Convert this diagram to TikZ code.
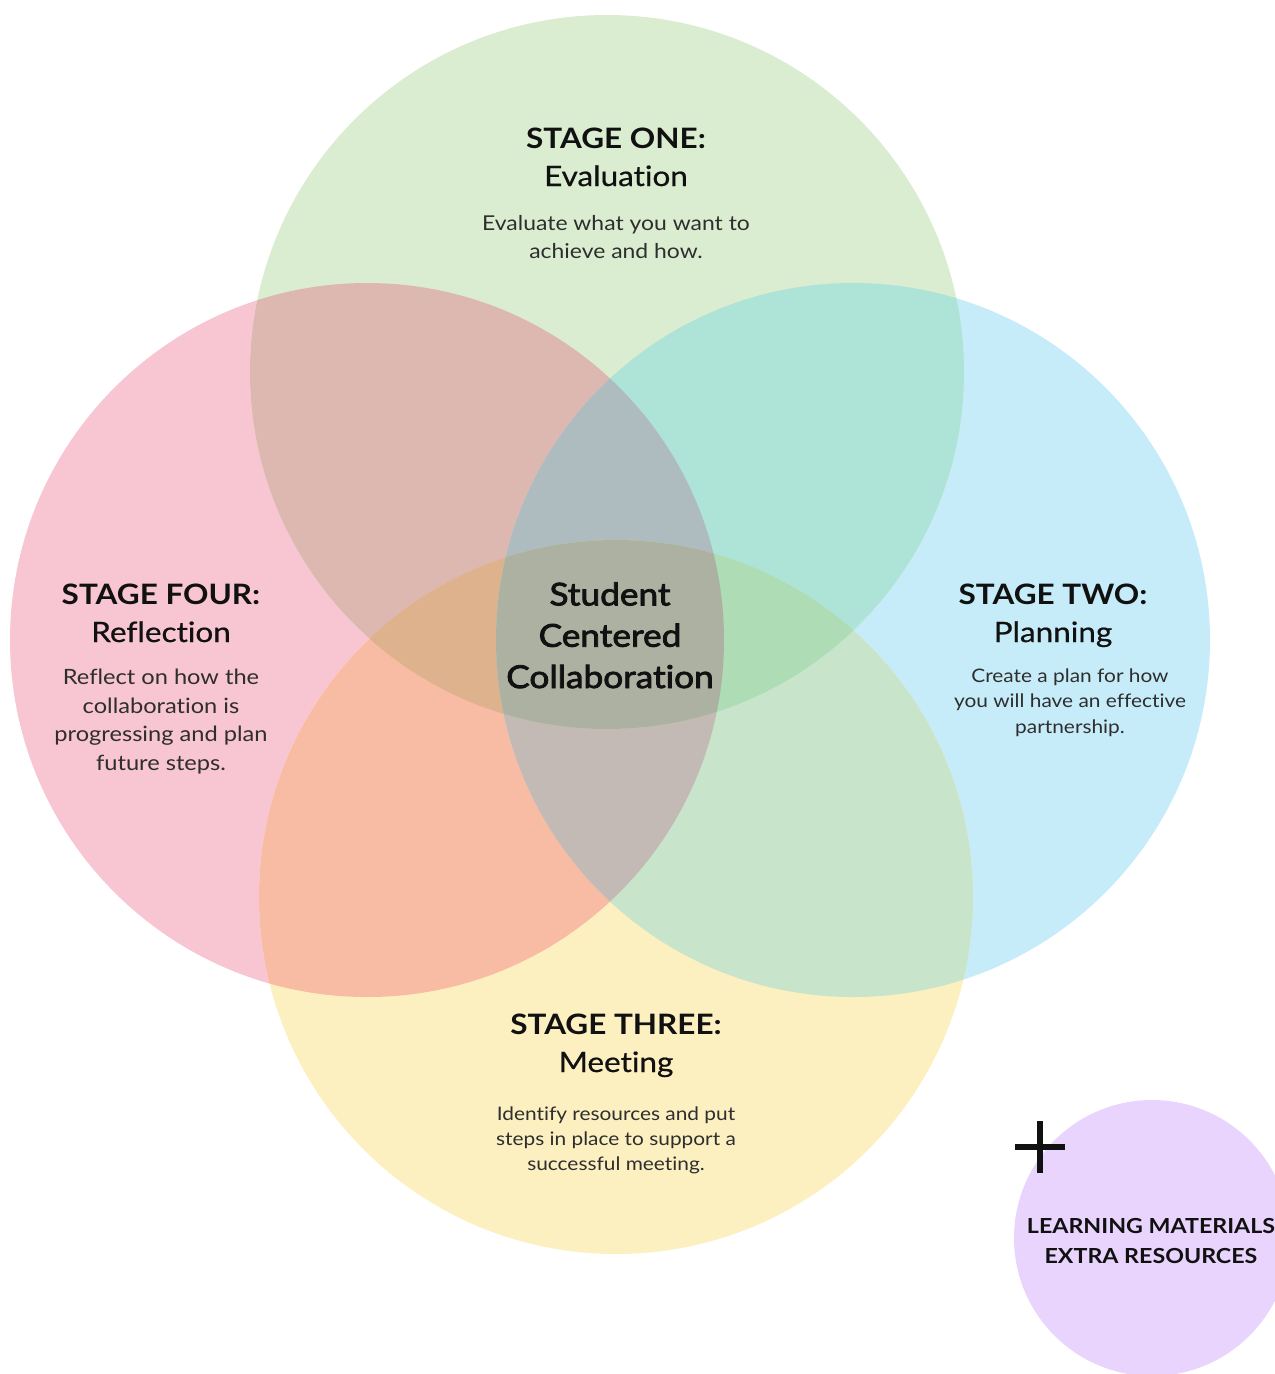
\documentclass[tikz,border=0pt]{standalone}
\usepackage{fontspec}
\setmainfont{Lato}[FakeStretch=1.12,Ligatures=NoCommon]
\newfontfamily\latomed{Lato}[FakeStretch=1.12,FakeBold=2.6,Ligatures=NoCommon]
\newfontfamily\latosemi{Lato}[FakeStretch=1.12,FakeBold=0.6,Ligatures=NoCommon]

% circle fills and their overlaps
\definecolor{cG}{HTML}{DBEDD0}
\definecolor{cP}{HTML}{F8C5D3}
\definecolor{cB}{HTML}{C6ECF9}
\definecolor{cY}{HTML}{FCF0C1}
\definecolor{cGP}{HTML}{DDB8B0}
\definecolor{cGB}{HTML}{AEE3D7}
\definecolor{cPY}{HTML}{F8BBA3}
\definecolor{cBY}{HTML}{C8E4CB}
\definecolor{cGPB}{HTML}{AEBBBF}
\definecolor{cGPY}{HTML}{DDB28D}
\definecolor{cGBY}{HTML}{AEDCB4}
\definecolor{cPBY}{HTML}{C4BAB5}
\definecolor{cAll}{HTML}{ACB1A1}
\definecolor{cPurple}{HTML}{E9D4FD}
\definecolor{ink}{HTML}{111111}
\definecolor{bodyink}{HTML}{2E2E2E}

\begin{document}
\begin{tikzpicture}[x=0.02cm,y=-0.02cm,
  % multi-line nodes: the base anchor sits on the last line's baseline
  head/.style={anchor=base,align=center,inner sep=0pt,text=ink,
    font=\fontsize{16}{21.5}\selectfont},
  body/.style={anchor=base,align=center,inner sep=0pt,text=bodyink},
  core/.style={anchor=base,align=center,inner sep=0pt,text=ink,
    font=\latomed\fontsize{17.9}{23.5}\selectfont},
  extra/.style={anchor=base,align=center,inner sep=0pt,text=ink,
    font=\bfseries\fontsize{11.8}{17}\selectfont}]

\def\cGreen{(607,372) circle[radius=357]}
\def\cPink{(367,640) circle[radius=357]}
\def\cBlue{(853,640) circle[radius=357]}
\def\cYellow{(616,897) circle[radius=357]}

\useasboundingbox (0,0) rectangle (1275,1374);
\clip (0,0) rectangle (1275,1374);

% single circles
\fill[cP] \cPink;
\fill[cB] \cBlue;
\fill[cY] \cYellow;
\fill[cG] \cGreen;

% pairwise overlaps
\begin{scope}
  \clip \cGreen;
  \fill[cGP] \cPink;
  \fill[cGB] \cBlue;
\end{scope}
\begin{scope}
  \clip \cYellow;
  \fill[cPY] \cPink;
  \fill[cBY] \cBlue;
\end{scope}

% triple overlaps
\begin{scope}
  \clip \cGreen;
  \clip \cPink;
  \fill[cGPB] \cBlue;
  \fill[cGPY] \cYellow;
\end{scope}
\begin{scope}
  \clip \cYellow;
  \clip \cBlue;
  \fill[cPBY] \cPink;
  \fill[cGBY] \cGreen;
\end{scope}

% centre, all four
\begin{scope}
  \clip \cGreen;
  \clip \cPink;
  \clip \cBlue;
  \fill[cAll] \cYellow;
\end{scope}

% extra resources bubble
\fill[cPurple] (1152,1238) circle[radius=138];
\draw[ink,line width=2.9pt] (1040,1121) -- (1040,1173);
\draw[ink,line width=2.9pt] (1015,1147) -- (1065,1147);

% stage one
\node[head] (oneHead) at (616,186) {\textbf{STAGE ONE:}\\\latosemi Evaluation};
\node[body,font=\fontsize{11.65}{15.9}\selectfont] (oneBody) at (616,258)
  {Evaluate what you want to\\achieve and how.};

% stage four
\node[head] (fourHead) at (161,642) {\textbf{STAGE FOUR:}\\\latosemi Reflection};
\node[body,font=\fontsize{12}{16.2}\selectfont] (fourBody) at (161,770)
  {Reflect on how the\\collaboration is\\progressing and plan\\future steps.};

% stage two
\node[head] (twoHead) at (1053,642) {\textbf{STAGE TWO:}\\\latosemi Planning};
\node[body,font=\fontsize{10.6}{14.5}\selectfont] (twoBody) at (1070,733)
  {Create a plan for how\\you will have an effective\\partnership.};

% stage three
\node[head] (threeHead) at (616,1072) {\textbf{STAGE THREE:}\\\latosemi Meeting};
\node[body,font=\fontsize{10.6}{14.2}\selectfont] (threeBody) at (616,1170)
  {Identify resources and put\\steps in place to support a\\successful meeting.};

% centre label
\node[core] (centre) at (610,688) {Student\\Centered\\Collaboration};

% extra resources label
\node[extra] (extraText) at (1151,1263) {LEARNING MATERIALS\\EXTRA RESOURCES};

\end{tikzpicture}
\end{document}
